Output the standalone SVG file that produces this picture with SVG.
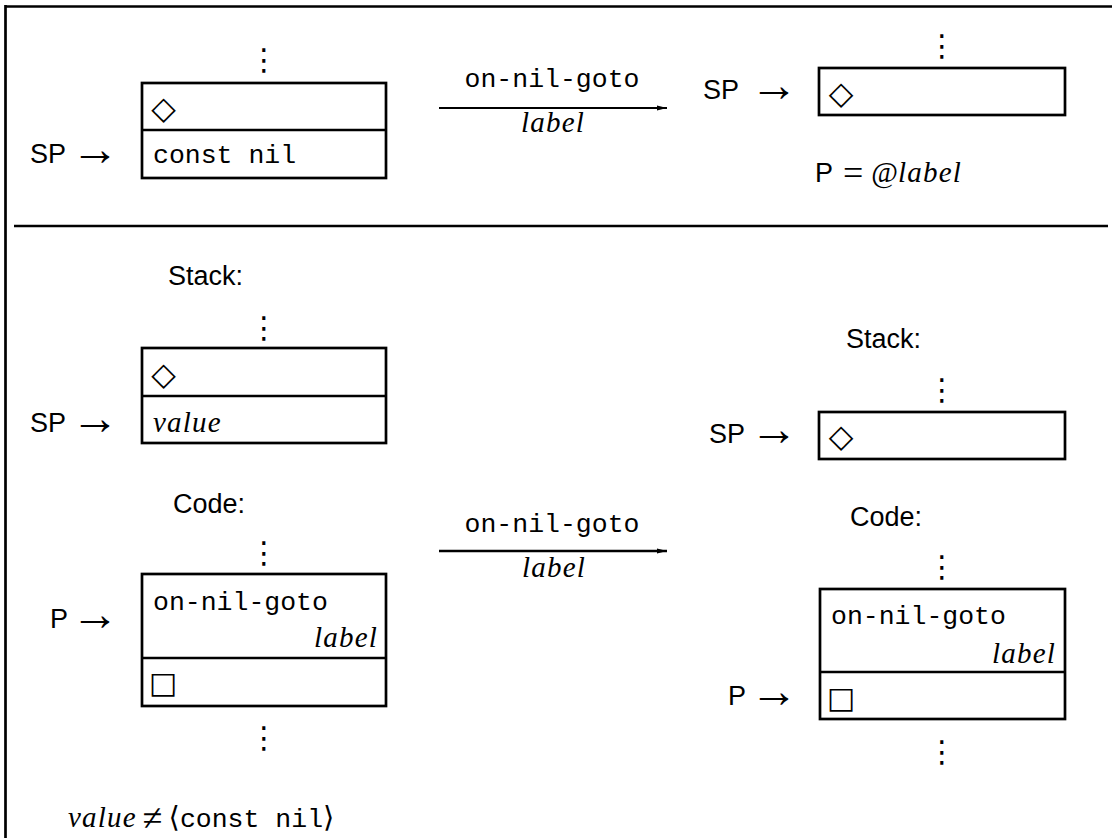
<svg xmlns="http://www.w3.org/2000/svg" width="1112" height="838" viewBox="0 0 1112 838">
<style>
.sans{font-family:"Liberation Sans",Arial,sans-serif;font-size:27px;fill:#000}
.mono{font-family:"Liberation Mono","Courier New",monospace;font-size:26.5px;fill:#000}
.it{font-family:"Liberation Serif","Times New Roman",serif;font-style:italic;font-size:29px;letter-spacing:1.2px;fill:#000}
.rm{font-family:"Liberation Serif","DejaVu Serif",serif;font-size:29px;fill:#000}
.big{font-size:36px}
.sym{font-family:"DejaVu Sans",sans-serif;fill:#000}
.dia{font-size:32px}
.sq{font-size:30px}
.arr{font-family:"Liberation Serif","DejaVu Serif",serif;font-size:48px;fill:#000}
.dots{font-family:"DejaVu Sans",sans-serif;font-size:30px;fill:#000}
.box{fill:none;stroke:#000;stroke-width:2.7}
.rule{stroke:#000;stroke-width:2.7;fill:none}
</style>
<defs>
<marker id="ah" viewBox="0 0 10 6" refX="10" refY="3" markerWidth="10" markerHeight="6" markerUnits="userSpaceOnUse" orient="auto">
<path d="M0,0.5 L10,3 L0,5.5 Z" fill="#000"/>
</marker>
</defs>
<rect width="1112" height="838" fill="#fff"/>
<g id="frame">
<line class="rule" x1="5" y1="6.5" x2="1112" y2="6.5"/>
<line class="rule" x1="5.5" y1="5" x2="5.5" y2="838"/>
<line class="rule" x1="14" y1="226" x2="1108" y2="226"/>
</g>

<g id="top-left">
<text class="dots" x="264" y="70" text-anchor="middle">⋮</text>
<rect class="box" x="142" y="83" width="244" height="95"/>
<line class="rule" x1="142" y1="130" x2="386" y2="130"/>
<text class="sym dia" x="163.5" y="119" text-anchor="middle">◇</text>
<text class="mono" x="153" y="163">const nil</text>
<text class="sans" x="30" y="163">SP</text>
<text class="arr" x="71" y="165">→</text>
</g>
<g id="top-right">
<text class="dots" x="942" y="56" text-anchor="middle">⋮</text>
<rect class="box" x="819" y="68" width="246" height="47"/>
<text class="sym dia" x="841" y="104" text-anchor="middle">◇</text>
<text class="sans" x="703" y="99">SP</text>
<text class="arr" x="750" y="101">→</text>
<text x="815" y="182"><tspan class="sans">P</tspan><tspan class="rm big" dx="10" dy="3">=</tspan><tspan class="rm" dx="8" dy="-3">@</tspan><tspan class="it">label</tspan></text>
</g>

<g id="stack-before">
<text class="sans" x="168" y="285">Stack:</text>
<text class="dots" x="264" y="338" text-anchor="middle">⋮</text>
<rect class="box" x="142" y="348" width="244" height="95"/>
<line class="rule" x1="142" y1="396" x2="386" y2="396"/>
<text class="sym dia" x="163.5" y="385" text-anchor="middle">◇</text>
<text class="it" x="153" y="432">value</text>
<text class="sans" x="30" y="432">SP</text>
<text class="arr" x="71" y="434">→</text>
</g>
<g id="code-before">
<text class="sans" x="173" y="513">Code:</text>
<text class="dots" x="264" y="563" text-anchor="middle">⋮</text>
<rect class="box" x="142" y="574" width="244" height="132"/>
<line class="rule" x1="142" y1="658" x2="386" y2="658"/>
<text class="mono" x="153" y="610">on-nil-goto</text>
<text class="it" x="378" y="647" text-anchor="end">label</text>
<text class="sym sq" x="163" y="693" text-anchor="middle">□</text>
<text class="sans" x="50" y="628">P</text>
<text class="arr" x="71" y="630">→</text>
<text class="dots" x="264" y="748" text-anchor="middle">⋮</text>
</g>
<g id="condition">
<text x="68" y="827"><tspan class="it">value</tspan><tspan class="rm big" dx="6" dy="3">≠</tspan><tspan class="rm" dx="6" dy="-3">⟨</tspan><tspan class="mono">const nil</tspan><tspan class="rm">⟩</tspan></text>
</g>
<g id="stack-after">
<text class="sans" x="846" y="348">Stack:</text>
<text class="dots" x="942" y="400" text-anchor="middle">⋮</text>
<rect class="box" x="819" y="412" width="246" height="47"/>
<text class="sym dia" x="841" y="447" text-anchor="middle">◇</text>
<text class="sans" x="709" y="443">SP</text>
<text class="arr" x="750" y="445">→</text>
</g>
<g id="code-after">
<text class="sans" x="850" y="526">Code:</text>
<text class="dots" x="942" y="577" text-anchor="middle">⋮</text>
<rect class="box" x="820" y="589" width="245" height="130"/>
<line class="rule" x1="820" y1="672" x2="1065" y2="672"/>
<text class="mono" x="831" y="624">on-nil-goto</text>
<text class="it" x="1056" y="663" text-anchor="end">label</text>
<text class="sym sq" x="841" y="708" text-anchor="middle">□</text>
<text class="sans" x="728" y="705">P</text>
<text class="arr" x="750" y="707">→</text>
<text class="dots" x="942" y="762" text-anchor="middle">⋮</text>
</g>

<g id="connectors">
<line x1="439" y1="108" x2="667" y2="108" stroke="#000" stroke-width="1.8" marker-end="url(#ah)"/>
<text class="mono" x="552" y="87" text-anchor="middle">on-nil-goto</text>
<text class="it" x="553" y="132" text-anchor="middle">label</text>
<line x1="439" y1="551" x2="667" y2="551" stroke="#000" stroke-width="2.7" marker-end="url(#ah)"/>
<text class="mono" x="552" y="532" text-anchor="middle">on-nil-goto</text>
<text class="it" x="554" y="577" text-anchor="middle">label</text>
</g>
</svg>
